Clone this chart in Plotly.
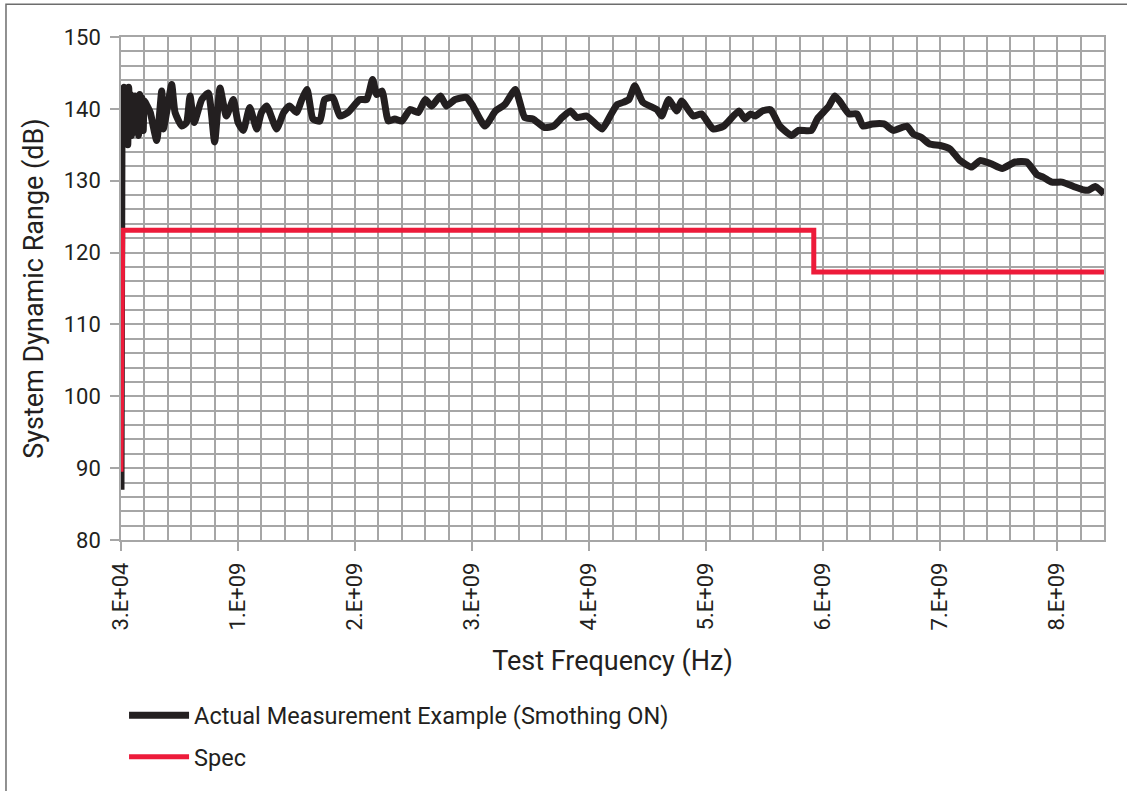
import plotly.graph_objects as go

# ---- data ----
meas_freq_hz = [
    3e4, 8e6, 1.2e7, 1.8e7, 2.4e7, 3.0e7, 3.6e7, 4.2e7, 5.0e7, 5.8e7, 6.6e7, 7.4e7, 8.2e7,
    9.0e7, 1.0e8, 1.1e8, 1.2e8, 1.3e8, 1.4e8, 1.5e8, 1.6e8, 1.7e8, 1.8e8, 1.9e8, 2.0e8,
    2.2e8, 2.5e8, 3.05e8, 3.48e8, 3.62e8, 4.0e8, 4.33e8, 4.62e8, 5.2e8, 5.6e8, 5.9e8,
    6.25e8, 6.9e8, 7.46e8, 8.0e8, 8.46e8, 9.0e8, 9.6e8, 1.0e9, 1.045e9, 1.10e9, 1.16e9,
    1.20e9, 1.245e9, 1.33e9, 1.39e9, 1.44e9, 1.50e9, 1.545e9, 1.59e9, 1.64e9, 1.70e9,
    1.74e9, 1.81e9, 1.87e9, 1.94e9, 2.04e9, 2.10e9, 2.15e9, 2.185e9, 2.23e9, 2.285e9,
    2.34e9, 2.40e9, 2.47e9, 2.54e9, 2.60e9, 2.655e9, 2.73e9, 2.78e9, 2.855e9, 2.95e9,
    3.0e9, 3.11e9, 3.20e9, 3.28e9, 3.37e9, 3.45e9, 3.52e9, 3.62e9, 3.695e9, 3.77e9,
    3.84e9, 3.895e9, 3.98e9, 4.11e9, 4.19e9, 4.24e9, 4.29e9, 4.34e9, 4.39e9, 4.46e9,
    4.58e9, 4.62e9, 4.68e9, 4.75e9, 4.79e9, 4.89e9, 4.96e9, 5.06e9, 5.15e9, 5.28e9,
    5.33e9, 5.38e9, 5.42e9, 5.48e9, 5.55e9, 5.63e9, 5.73e9, 5.79e9, 5.90e9, 5.95e9,
    6.05e9, 6.10e9, 6.14e9, 6.22e9, 6.29e9, 6.34e9, 6.42e9, 6.52e9, 6.60e9, 6.715e9,
    6.77e9, 6.84e9, 6.91e9, 7.0e9, 7.085e9, 7.17e9, 7.27e9, 7.34e9, 7.43e9, 7.53e9,
    7.64e9, 7.74e9, 7.83e9, 7.88e9, 7.955e9, 8.04e9, 8.14e9, 8.23e9, 8.27e9, 8.325e9,
    8.40e9,
]
meas_db = [
    87.0, 134.5, 142.8, 136.5, 143.0, 135.5, 142.5, 137.5, 142.8, 135.0, 143.0, 138.0, 142.0,
    136.3, 141.5, 137.5, 141.8, 139.0, 141.5, 136.3, 142.0, 137.5, 141.5, 137.0, 141.1,
    140.5, 139.5, 135.6, 142.5, 137.2, 140.5, 143.4, 139.5, 137.6, 138.1, 141.8,
    138.1, 141.3, 142.2, 135.4, 142.9, 139.0, 141.3, 138.1, 137.0, 140.2, 137.2,
    139.5, 140.4, 137.2, 139.5, 140.4, 139.5, 141.3, 142.7, 138.6, 138.3,
    141.3, 141.6, 139.0, 139.5, 141.3, 141.3, 144.1, 142.0, 142.5, 138.3,
    138.6, 138.3, 139.9, 139.5, 141.3, 140.4, 141.8, 140.4, 141.3, 141.6,
    140.6, 137.6, 139.7, 140.6, 142.7, 138.8, 138.6, 137.4, 137.6, 138.8,
    139.7, 138.8, 139.0, 137.2, 139.3, 140.6, 140.9, 141.3, 143.2, 140.9,
    139.9, 139.0, 141.3, 139.7, 141.1, 139.0, 139.3, 137.2, 137.6, 139.7,
    138.6, 139.3, 139.0, 139.7, 139.9, 137.6, 136.3, 137.0, 137.0, 138.6,
    140.4, 141.8, 141.1, 139.3, 139.3, 137.6, 137.9, 137.9, 137.0, 137.6,
    136.5, 136.0, 135.1, 134.9, 134.4, 132.8, 131.9, 132.8, 132.4, 131.7,
    132.6, 132.6, 130.8, 130.5, 129.8, 129.8, 129.2, 128.7, 128.7, 129.2,
    128.2,
]
spec_freq_hz = [3e4, 1.5e7, 5.92e9, 5.92e9, 8.4e9]
spec_db = [89.5, 123.1, 123.1, 117.3, 117.3]

x_tick_vals = [3e4, 1e9, 2e9, 3e9, 4e9, 5e9, 6e9, 7e9, 8e9]
x_tick_text = ["3.E+04", "1.E+09", "2.E+09", "3.E+09", "4.E+09", "5.E+09", "6.E+09", "7.E+09", "8.E+09"]

series_names = ["Actual Measurement Example (Smothing ON)", "Spec"]

FONT = "Roboto, Arial, sans-serif"
TXT = "#231f20"
GRID = "#a6a6a6"

fig = go.Figure()
fig.add_trace(go.Scatter(
    x=meas_freq_hz, y=meas_db, mode="lines", name=series_names[0],
    line=dict(color="#231f20", width=7, shape="spline", smoothing=0.5), legendgroup="a",
))
fig.add_trace(go.Scatter(
    x=spec_freq_hz, y=spec_db, mode="lines", name=series_names[1],
    line=dict(color="#ed1b3a", width=5), legendgroup="b",
))

fig.update_layout(
    width=1127, height=791,
    margin=dict(l=121, r=23, t=37, b=246),
    paper_bgcolor="white", plot_bgcolor="white",
    font=dict(family=FONT, color=TXT),
    showlegend=True,
    legend=dict(
        x=0.0031, y=-0.305, xanchor="left", yanchor="top",
        font=dict(size=23.5, family=FONT, color=TXT),
        tracegroupgap=8, bgcolor="rgba(0,0,0,0)", itemwidth=60,
    ),
    shapes=[dict(
        type="rect", xref="paper", yref="paper",
        x0=-0.117, x1=1.05, y0=-0.52, y1=1.065,
        line=dict(color="#6d6d6d", width=1.5), layer="below",
    )],
)

fig.update_xaxes(
    range=[3e4, 8.4e9],
    tickmode="array", tickvals=x_tick_vals, ticktext=x_tick_text,
    tickangle=-90, tickfont=dict(size=22, family=FONT, color=TXT),
    ticks="outside", ticklen=9, tickcolor=GRID, tickwidth=1.5,
    showgrid=True, gridcolor=GRID, gridwidth=1.5,
    minor=dict(dtick=2e8, tick0=0, showgrid=True, gridcolor=GRID, gridwidth=1.5),
    showline=True, mirror=True, linecolor=GRID, linewidth=1.5,
    zeroline=False, ticklabelstandoff=3,
    title=dict(text="Test Frequency (Hz)", font=dict(size=27, family=FONT, color=TXT), standoff=22),
)
fig.update_yaxes(
    range=[80, 150], dtick=10, tick0=80,
    tickfont=dict(size=22, family=FONT, color=TXT),
    ticks="outside", ticklen=9, tickcolor=GRID, tickwidth=1.5,
    showgrid=True, gridcolor=GRID, gridwidth=1.5,
    minor=dict(dtick=2, tick0=80, showgrid=True, gridcolor=GRID, gridwidth=1.5),
    showline=True, mirror=True, linecolor=GRID, linewidth=1.5,
    zeroline=False, ticklabelstandoff=5,
    title=dict(text="System Dynamic Range (dB)", font=dict(size=27, family=FONT, color=TXT), standoff=12),
)

fig.write_html("out.html", config={"displayModeBar": False},
               post_script="document.body.style.margin='0px';")
